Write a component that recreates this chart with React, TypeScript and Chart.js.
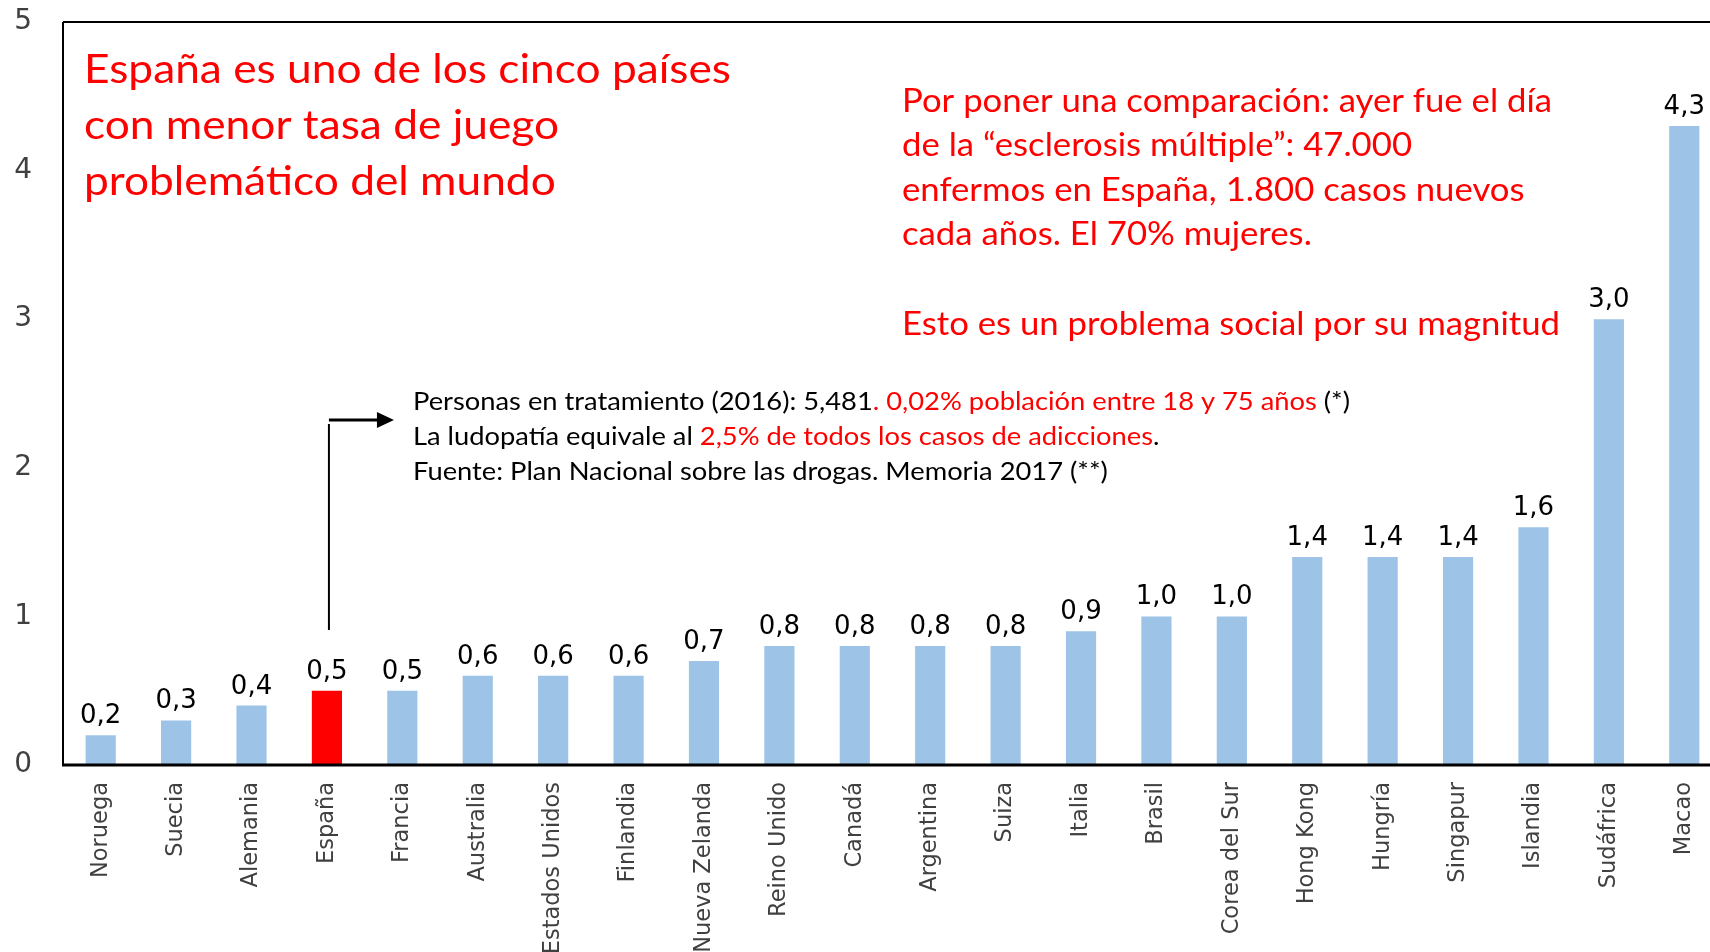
import React, { useEffect, useRef } from "react";
import { Chart, registerables } from "chart.js";

Chart.register(...registerables);

const categories = [
  "Noruega", "Suecia", "Alemania", "España", "Francia", "Australia",
  "Estados Unidos", "Finlandia", "Nueva Zelanda", "Reino Unido", "Canadá",
  "Argentina", "Suiza", "Italia", "Brasil", "Corea del Sur", "Hong Kong",
  "Hungría", "Singapur", "Islandia", "Sudáfrica", "Macao",
];
const values = [
  0.2, 0.3, 0.4, 0.5, 0.5, 0.6, 0.6, 0.6, 0.7, 0.8, 0.8,
  0.8, 0.8, 0.9, 1.0, 1.0, 1.4, 1.4, 1.4, 1.6, 3.0, 4.3,
];
const yTickValues = [0, 1, 2, 3, 4, 5];
const highlighted = "España";

const RED = "#FF0000";
const BLACK = "#000000";
const BLUE = "#9DC3E6";

type Seg = { text: string; color: string };

const titleLines: Seg[][] = [
  [{ text: "España es uno de los cinco países", color: RED }],
  [{ text: "con menor tasa de juego", color: RED }],
  [{ text: "problemático del mundo", color: RED }],
];

const noteLines: Seg[][] = [
  [{ text: "Por poner una comparación: ayer fue el día", color: RED }],
  [{ text: "de la “esclerosis múltiple”: 47.000", color: RED }],
  [{ text: "enfermos en España, 1.800 casos nuevos", color: RED }],
  [{ text: "cada años. El 70% mujeres.", color: RED }],
  [{ text: "Esto es un problema social por su magnitud", color: RED }],
];

const infoLines: Seg[][] = [
  [
    { text: "Personas en tratamiento (2016): 5,481", color: BLACK },
    { text: ". 0,02% población entre 18 y 75 años", color: RED },
    { text: " (*)", color: BLACK },
  ],
  [
    { text: "La ludopatía equivale al ", color: BLACK },
    { text: "2,5% de todos los casos de adicciones", color: RED },
    { text: ".", color: BLACK },
  ],
  [{ text: "Fuente: Plan Nacional sobre las drogas. Memoria 2017 (**)", color: BLACK }],
];

const CW = 1722;
const CH = 952;

const fmt = (v: number) => v.toFixed(1).replace(".", ",");

function drawBlock(
  ctx: CanvasRenderingContext2D,
  lines: Seg[][],
  x: number,
  baselines: number[],
  size: number,
  targetWidth: number
) {
  ctx.font = `${size}px Lato`;
  ctx.textAlign = "left";
  ctx.textBaseline = "alphabetic";
  const w0 = lines[0].reduce((s, seg) => s + ctx.measureText(seg.text).width, 0);
  const sx = targetWidth / w0;
  lines.forEach((line, li) => {
    ctx.save();
    ctx.translate(x, baselines[li]);
    ctx.scale(sx, 1);
    let cx = 0;
    line.forEach((seg) => {
      ctx.fillStyle = seg.color;
      ctx.fillText(seg.text, cx, 0);
      cx += ctx.measureText(seg.text).width;
    });
    ctx.restore();
  });
}

const overlayPlugin = {
  id: "overlay",
  afterDatasetsDraw(chart: any) {
    const { ctx, chartArea, scales } = chart;
    const xs = scales.x;
    ctx.save();

    // frame lines
    ctx.strokeStyle = "#000";
    ctx.lineWidth = 2;
    ctx.beginPath();
    ctx.moveTo(chartArea.left, chartArea.top);
    ctx.lineTo(chartArea.right, chartArea.top);
    ctx.stroke();
    ctx.beginPath();
    ctx.moveTo(chartArea.left, chartArea.top);
    ctx.lineTo(chartArea.left, chartArea.bottom);
    ctx.stroke();
    ctx.lineWidth = 3;
    ctx.beginPath();
    ctx.moveTo(chartArea.left - 1, chartArea.bottom);
    ctx.lineTo(chartArea.right, chartArea.bottom);
    ctx.stroke();

    // data labels
    const meta = chart.getDatasetMeta(0);
    ctx.font = '26px "DejaVu Sans"';
    ctx.fillStyle = "#000";
    ctx.textAlign = "center";
    ctx.textBaseline = "alphabetic";
    meta.data.forEach((bar: any, i: number) => {
      ctx.fillText(fmt(values[i]), bar.x, bar.y - 12);
    });

    // annotation texts
    drawBlock(ctx, titleLines, 84, [83, 139, 195], 41.5, 647);
    drawBlock(ctx, noteLines, 902, [112, 156, 201, 245, 335], 33, 650);
    drawBlock(ctx, infoLines, 413, [410, 445, 480], 25.6, 937);

    // elbow arrow from España
    const ax = xs.getPixelForValue(categories.indexOf(highlighted)) + 2;
    ctx.strokeStyle = "#000";
    ctx.lineWidth = 2;
    ctx.beginPath();
    ctx.moveTo(ax, 630);
    ctx.lineTo(ax, 424);
    ctx.stroke();
    ctx.lineWidth = 3;
    ctx.beginPath();
    ctx.moveTo(ax, 420);
    ctx.lineTo(ax + 50, 420);
    ctx.stroke();
    ctx.fillStyle = "#000";
    ctx.beginPath();
    ctx.moveTo(ax + 65, 420);
    ctx.lineTo(ax + 48, 412);
    ctx.lineTo(ax + 48, 428);
    ctx.closePath();
    ctx.fill();

    ctx.restore();
  },
};

export default function App() {
  const ref = useRef<HTMLCanvasElement | null>(null);

  useEffect(() => {
    if (!ref.current) return;
    const chart = new Chart(ref.current, {
      type: "bar",
      data: {
        labels: categories,
        datasets: [
          {
            data: values,
            backgroundColor: categories.map((c) => (c === highlighted ? RED : BLUE)),
            borderWidth: 0,
            categoryPercentage: 1,
            barPercentage: 0.4,
          },
        ],
      },
      options: {
        responsive: false,
        animation: false,
        devicePixelRatio: 1,
        layout: { padding: { top: 22, left: 0, right: 0, bottom: 0 } },
        plugins: { legend: { display: false }, tooltip: { enabled: false } },
        scales: {
          x: {
            grid: { display: false, drawTicks: false },
            border: { display: false },
            ticks: {
              autoSkip: false,
              maxRotation: 90,
              minRotation: 90,
              padding: 17,
              color: "#404040",
              font: { family: "DejaVu Sans", size: 22.5 },
            },
            afterFit: (s: any) => {
              s.height = 187;
              s.paddingLeft = 0;
              s.paddingRight = 0;
              s.paddingTop = 0;
              s.paddingBottom = 0;
            },
          },
          y: {
            min: 0,
            max: 5,
            afterBuildTicks: (s: any) => {
              s.ticks = yTickValues.map((v) => ({ value: v }));
            },
            grid: { display: false, drawTicks: false },
            border: { display: false },
            ticks: {
              padding: 31,
              color: "#404040",
              font: { family: "DejaVu Sans", size: 28 },
            },
            afterFit: (s: any) => {
              s.width = 63;
              s.paddingTop = 0;
              s.paddingBottom = 0;
              s.paddingLeft = 0;
              s.paddingRight = 0;
            },
          },
        },
      },
      plugins: [overlayPlugin],
    });
    return () => chart.destroy();
  }, []);

  return (
    <div
      style={{
        position: "fixed",
        left: 0,
        top: 0,
        width: 1710,
        height: 952,
        overflow: "hidden",
        background: "#fff",
      }}
    >
      <canvas ref={ref} width={CW} height={CH} style={{ display: "block" }} />
    </div>
  );
}
